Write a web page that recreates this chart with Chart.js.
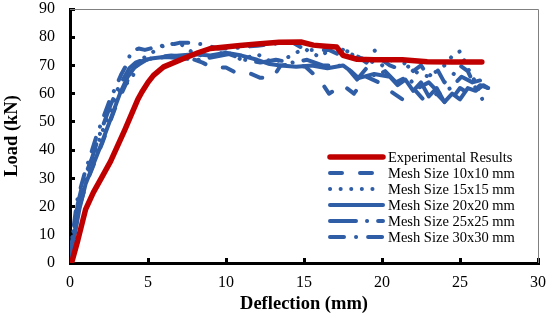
<!DOCTYPE html>
<html>
<head>
<meta charset="utf-8">
<script src="https://cdn.jsdelivr.net/npm/chart.js@4"></script>
<style>
  html, body { margin: 0; padding: 0; background: #ffffff; }
  #wrap { width: 550px; height: 320px; }
</style>
</head>
<body>
<div id="wrap"><canvas id="loadChart" width="550" height="320"></canvas></div>
<script>
// Load-deflection curves
const expX = [0.1, 0.5, 1.0, 1.5, 2.0, 2.6, 3.5, 4.35, 4.6, 5.0, 5.35, 6.0, 7.25, 8.2, 9.0, 10.9, 12.0, 13.4, 14.8, 15.6, 16.4, 17.1, 17.5, 18.4, 19.5, 21.3, 22.9, 24.5, 26.4];
const expY = [0, 8, 19, 25, 30, 36, 47, 58, 60.5, 64, 66.5, 69.5, 72.4, 74.5, 76, 77.1, 77.6, 78.2, 78.3, 77.2, 76.8, 76.5, 73.6, 72.2, 72, 72, 71.3, 71.2, 71.2];

const m10X = [0, 0.2, 0.6, 1.1, 1.6, 2.1, 2.5, 2.9, 3.3, 3.8, 4.3, 4.9, 5.6, 6.5, 7.5, 8.5, 9.1, 10.0, 10.6, 11.4, 12.2, 13.0, 13.5, 14.3, 15.1, 16.0, 16.6, 17.5, 18.2, 19.0, 19.8, 20.5, 21.3, 22.0, 22.8, 23.5, 24.2, 25.0, 25.6, 26.3, 26.8];
const m10Y = [0, 8, 20, 29, 36, 43, 49, 55, 60, 66, 70, 72, 73, 73.5, 73, 71, 69.3, 69.3, 67.5, 67.5, 65.6, 65.6, 70, 70.5, 69.5, 65, 60, 63, 60, 66, 64, 61, 58, 62, 57, 60, 56, 62, 60, 63, 62];

const m15X = [0, 0.15, 0.5, 1.0, 1.5, 1.9, 2.3, 2.8, 3.2, 3.7, 4.0, 4.5, 5.0, 5.9, 7.0, 8.0, 9.0, 10.0, 11.0, 12.0, 13.0, 14.0, 15.0, 16.0, 17.0, 18.0, 19.0, 20.0, 21.0, 22.0, 23.0, 24.0, 24.6, 25.0, 25.5, 26.0, 26.5];
const m15Y = [0, 9, 21, 30, 37, 44, 50, 56, 61, 64, 66, 72, 73.5, 77, 78, 74, 73, 75, 72, 74, 71, 73, 76, 73, 77, 74, 72, 70, 73, 68, 66, 70, 74, 75, 69, 64, 57];

const m20X = [0, 0.2, 0.6, 1.0, 1.5, 2.0, 2.4, 2.8, 3.2, 3.7, 4.1, 4.6, 5.2, 6.0, 7.0, 8.0, 9.0, 10.0, 11.0, 12.0, 12.8, 13.5, 14.5, 15.5, 16.5, 17.5, 18.0, 18.5, 19.5, 20.5, 21.0, 21.5, 22.0, 22.5, 23.0, 23.5, 24.0, 24.5, 25.0, 25.5, 26.0, 26.5, 26.8];
const m20Y = [0, 7, 19, 28, 35, 42, 48, 54, 60, 66, 69, 71.5, 72.5, 73, 73.5, 74, 73.5, 74.5, 73.5, 72, 70.5, 70, 69.5, 70, 69, 70, 68, 65.5, 67, 66, 63, 65, 61, 64, 59, 62, 57, 60, 58, 62, 61, 63, 62];

const m25X = [0, 0.15, 0.5, 0.9, 1.4, 1.8, 2.2, 2.6, 3.0, 3.4, 3.8, 4.2, 4.7, 5.3, 6.2, 7.2, 8.2, 9.2, 10.2, 11.2, 12.2, 13.2, 14.2, 15.2, 16.2, 17.2, 17.8, 18.4, 19.0, 19.6, 20.2, 20.9, 21.6, 22.3, 23.0, 23.7, 24.4, 25.1, 25.8, 26.5];
const m25Y = [0, 8, 21, 30, 37, 44, 50, 56, 61, 65, 69, 71, 72, 72.5, 73, 72.5, 72, 73, 74, 72, 71, 72, 71, 72, 70, 70, 69, 65, 69, 66, 68, 64, 66, 62, 64, 60, 62, 66, 64, 65];

const m30X = [0, 0.15, 0.45, 0.9, 1.3, 1.7, 2.1, 2.5, 2.9, 3.3, 3.7, 3.9, 4.4, 4.8, 5.5, 6.2, 7.0, 7.6, 8.5, 9.5, 10.5, 11.0, 12.0, 13.0, 13.4, 14.3, 15.1, 16.6, 17.2, 17.6, 18.5, 19.0, 19.5, 20.0, 20.5, 21.0, 21.5, 22.0, 22.5, 23.0, 23.5, 24.0, 24.6, 25.0, 25.5, 26.0];
const m30Y = [0, 9, 22, 31, 38, 45, 51, 57, 62, 67, 71, 75, 76, 75.5, 76.5, 77, 78, 78, 77.5, 76, 76, 76.5, 77, 77.5, 78, 78, 75.5, 75.5, 74, 75.5, 73, 71, 75.5, 72, 70, 69, 71, 68, 70, 66, 69, 64, 67, 70, 68, 62];

const seriesLabels = ['Experimental Results', 'Mesh Size 10x10 mm', 'Mesh Size 15x15 mm', 'Mesh Size 20x20 mm', 'Mesh Size 25x25 mm', 'Mesh Size 30x30 mm'];
const xTicks = [0, 5, 10, 15, 20, 25, 30];
const yTicks = [0, 10, 20, 30, 40, 50, 60, 70, 80, 90];

const RED = '#C00000';
const BLUE = '#2F5DA6';
const SERIF = '"Liberation Serif", "Times New Roman", serif';

function pts(xs, ys) {
    return xs.map((x, i) => ({ x: x, y: ys[i] }));
}

function lineSet(label, xs, ys, color, width, dash, order) {
    return {
        label: label,
        data: pts(xs, ys),
        borderColor: color,
        backgroundColor: color,
        borderWidth: width,
        borderDash: dash,
        borderCapStyle: 'round',
        borderJoinStyle: 'round',
        pointRadius: 0,
        tension: 0,
        fill: false,
        order: order
    };
}

// top/right frame plus the inset legend
const frameAndLegend = {
    id: 'frameAndLegend',
    beforeDatasetsDraw(chart) {
        const a = chart.chartArea;
        const ctx = chart.ctx;
        ctx.save();
        ctx.strokeStyle = '#808080';
        ctx.lineWidth = 1;
        ctx.beginPath();
        ctx.moveTo(a.left, a.top + 0.5);
        ctx.lineTo(a.right + 0.5, a.top + 0.5);
        ctx.lineTo(a.right + 0.5, a.bottom);
        ctx.stroke();
        ctx.restore();
    },
    afterDatasetsDraw(chart) {
        const ctx = chart.ctx;
        ctx.save();
        ctx.font = '14.5px ' + SERIF;
        ctx.textBaseline = 'middle';
        ctx.fillStyle = '#000000';
        chart.data.datasets.forEach((ds, i) => {
            const y = 157 + i * 16;
            ctx.strokeStyle = ds.borderColor;
            ctx.lineWidth = ds.borderWidth;
            ctx.lineCap = ds.borderCapStyle;
            ctx.setLineDash(ds.borderDash);
            ctx.beginPath();
            ctx.moveTo(330, y);
            ctx.lineTo(383, y);
            ctx.stroke();
            ctx.fillText(ds.label, 388, y + 1);
        });
        ctx.restore();
    }
};

const ctx = document.getElementById('loadChart').getContext('2d');
const chart = new Chart(ctx, {
    type: 'line',
    data: {
        datasets: [
            lineSet(seriesLabels[0], expX, expY, RED, 5.5, [], 0),
            lineSet(seriesLabels[1], m10X, m10Y, BLUE, 4, [12, 18], 1),
            lineSet(seriesLabels[2], m15X, m15Y, BLUE, 4, [0.1, 10.5], 2),
            lineSet(seriesLabels[3], m20X, m20Y, BLUE, 4, [], 3),
            lineSet(seriesLabels[4], m25X, m25Y, BLUE, 4, [26, 11, 0.1, 11], 4),
            lineSet(seriesLabels[5], m30X, m30Y, BLUE, 4, [14, 12, 0.1, 12], 5)
        ]
    },
    options: {
        responsive: false,
        animation: false,
        devicePixelRatio: 1,
        layout: { padding: { left: 0, right: 12, top: 9, bottom: 0 } },
        plugins: {
            legend: { display: false },
            tooltip: { enabled: false }
        },
        scales: {
            x: {
                type: 'linear',
                min: 0,
                max: 30,
                afterBuildTicks: s => { s.ticks = xTicks.map(v => ({ value: v })); },
                afterFit: s => { s.height = 57; s.paddingLeft = 0; s.paddingRight = 0; },
                border: { display: true, color: '#000000', width: 3 },
                grid: { drawOnChartArea: false, drawTicks: true, tickLength: -5, tickWidth: 3, tickColor: '#000000' },
                ticks: { color: '#000000', padding: 15, maxRotation: 0, font: { family: SERIF, size: 16 } },
                title: {
                    display: true,
                    text: 'Deflection (mm)',
                    color: '#000000',
                    padding: { top: 0, bottom: 5 },
                    font: { family: SERIF, size: 18.5, weight: 'bold' }
                }
            },
            y: {
                min: 0,
                max: 90,
                afterBuildTicks: s => { s.ticks = yTicks.map(v => ({ value: v })); },
                afterFit: s => { s.width = 70; s.paddingTop = 0; s.paddingBottom = 0; },
                border: { display: true, color: '#000000', width: 3 },
                grid: { drawOnChartArea: false, drawTicks: true, tickLength: -5, tickWidth: 3, tickColor: '#000000' },
                ticks: { color: '#000000', padding: 20, font: { family: SERIF, size: 16 } },
                title: {
                    display: true,
                    text: 'Load (kN)',
                    color: '#000000',
                    padding: { top: 1, bottom: 0 },
                    font: { family: SERIF, size: 18.5, weight: 'bold' }
                }
            }
        }
    },
    plugins: [frameAndLegend]
});
</script>
</body>
</html>
